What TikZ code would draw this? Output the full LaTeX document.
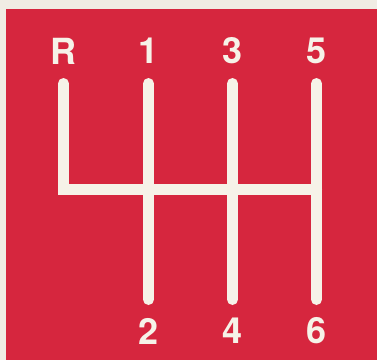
\documentclass[tikz,border=0pt]{standalone}
\usepackage{fontspec}
\setmainfont{TeX Gyre Heros}
\definecolor{gatered}{RGB}{214,38,62}
\definecolor{cream}{RGB}{246,242,232}
\definecolor{paper}{RGB}{240,236,228}
\begin{document}
\begin{tikzpicture}[x=1pt,y=-1pt,
  lbl/.style={text=cream,font=\fontsize{36}{36}\selectfont\bfseries,inner sep=0pt},
  gate/.style={draw=cream,line width=11pt,line cap=round,line join=miter}]
\useasboundingbox (0,0) rectangle (377,360);
\fill[paper] (0,0) rectangle (377,360);
\fill[gatered] (6,9) rectangle (377,360);
% labels
\node[lbl] (R) at (63.5,51) {R};
\node[lbl] (g1) at (148.5,51) {1};
\node[lbl] (g3) at (232.5,51) {3};
\node[lbl] (g5) at (316.5,51) {5};
\node[lbl] (g2) at (148.5,331) {2};
\node[lbl] (g4) at (232.5,331) {4};
\node[lbl] (g6) at (316.5,331) {6};
% bar ends
\coordinate (rt) at (63.5,83.5);
\coordinate (rb) at (63.5,189.5);
\coordinate (t1) at (148.5,83.5);
\coordinate (b1) at (148.5,299.5);
\coordinate (t3) at (232.5,83.5);
\coordinate (b3) at (232.5,299.5);
\coordinate (t5) at (316.5,83.5);
\coordinate (b5) at (316.5,299.5);
\coordinate (h5) at (316.5,189.5);
\draw[gate] (rt) -- (rb) -- (h5);
\draw[gate] (t1) -- (b1);
\draw[gate] (t3) -- (b3);
\draw[gate] (t5) -- (b5);
\end{tikzpicture}
\end{document}
